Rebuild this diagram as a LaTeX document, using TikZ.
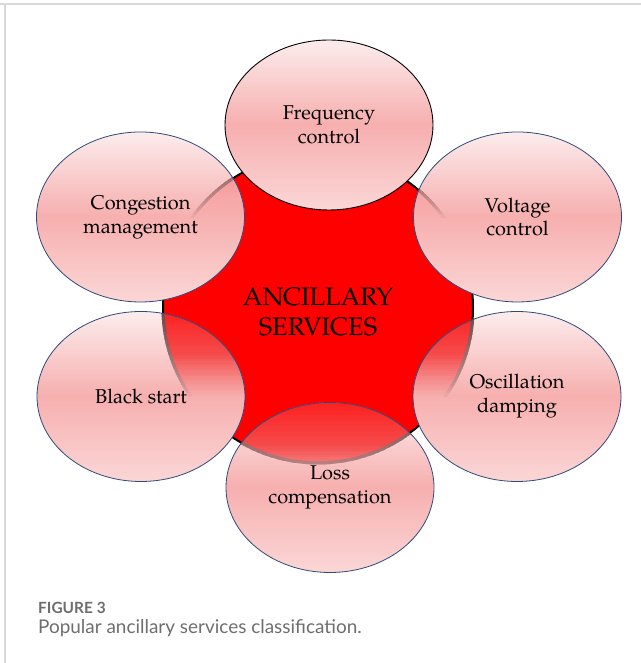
\documentclass[tikz,border=0pt]{standalone}
\usepackage{fontspec}
\setmainfont{TeX Gyre Pagella}
\newfontfamily\capfont{Lato}
\definecolor{satTop}{HTML}{FCEDED}
\definecolor{satMid}{HTML}{F7AFAF}
\definecolor{satBot}{HTML}{FBD6D6}
\definecolor{redTop}{HTML}{FF2020}
\definecolor{redQtr}{HTML}{F54A4A}
\definecolor{redFort}{HTML}{F58A8A}
\definecolor{satLine}{HTML}{2E4A7A}
\definecolor{hubRed}{HTML}{FF0000}
\definecolor{frameGray}{HTML}{D9D9D9}
\definecolor{capGray}{HTML}{6E6E6E}
\tikzset{
  lbl/.style={align=center, font=\fontsize{20}{24}\selectfont, text=black, inner sep=0pt},
  hublbl/.style={align=center, font=\fontsize{25.5}{30}\selectfont, text=black, inner sep=0pt},
  satedge/.style={draw=satLine, line width=0.8pt},
  capstyle/.style={anchor=base west, inner sep=0pt, text=capGray},
}
\begin{document}
\begin{tikzpicture}[x=1bp,y=1bp]
\useasboundingbox (0,0) rectangle (641,663);
\fill[white] (0,0) rectangle (641,663);
% frame
\coordinate (ftl) at (5,659);
\coordinate (ftr) at (641,659);
\coordinate (fl0) at (0,659);
\coordinate (fbl) at (5,0);
\draw[frameGray, line width=1.5bp] (fl0) -- (ftr);
\draw[frameGray, line width=1.5bp] (ftl) -- (fbl);
% hub
\coordinate (hub) at (318,355);
\fill[hubRed] (hub) circle [radius=155];
\draw[black, line width=2bp] (hub) circle [radius=155];
% satellites: banded vertical gradient, semi-transparent look above the middle
\foreach \cx/\cy/\st in {517.5/446/40, 517/266.5/100, 330/175.5/100, 141/266.5/100, 140.5/446/40, 329/538/100}{
  \begin{scope}
    \clip (\cx,\cy) ellipse [x radius=104, y radius=85];
    \foreach \k in {0,...,67}{
      \pgfmathsetmacro{\t}{(\k+0.5)/68}
      \pgfmathsetmacro{\ya}{\cy+85-2.5*\k}
      \pgfmathsetmacro{\yb}{\ya-2.65}
      \ifdim\t pt<0.5pt
        \pgfmathsetmacro{\pp}{100*\t/0.5}
        \colorlet{basecol}{satMid!\pp!satTop}
      \else
        \pgfmathsetmacro{\pp}{100*(\t-0.5)/0.5}
        \colorlet{basecol}{satBot!\pp!satMid}
      \fi
      \fill[basecol] ({\cx-105},\ya) rectangle ({\cx+105},\yb);
      \ifdim\t pt<0.5pt
        \ifdim\t pt<0.25pt
          \pgfmathsetmacro{\qq}{100*\t/0.25}
          \colorlet{ovraw}{redQtr!\qq!redTop}
        \else
          \ifdim\t pt<0.4pt
            \pgfmathsetmacro{\qq}{100*(\t-0.25)/0.15}
            \colorlet{ovraw}{redFort!\qq!redQtr}
          \else
            \pgfmathsetmacro{\qq}{100*(\t-0.4)/0.1}
            \colorlet{ovraw}{satMid!\qq!redFort}
          \fi
        \fi
        \colorlet{ovcol}{ovraw!\st!basecol}
        \begin{scope}
          \clip (hub) circle [radius=155];
          \fill[ovcol] ({\cx-105},\ya) rectangle ({\cx+105},\yb);
        \end{scope}
      \fi
    }
    \foreach \k in {0,...,33}{
      \pgfmathsetmacro{\t}{(\k+0.5)/68}
      \pgfmathsetmacro{\ya}{\cy+85-2.5*\k}
      \pgfmathsetmacro{\yb}{\ya-2.65}
      \pgfmathsetmacro{\lq}{58*pow(max(1-\t/0.5,0.001),0.6)}
      \colorlet{lncol}{black!\lq!satMid}
      \begin{scope}
        \clip ({\cx-105},\ya) rectangle ({\cx+105},\yb);
        \draw[lncol, line width=3bp] (hub) circle [radius=155];
      \end{scope}
    }
  \end{scope}
}
\coordinate (volt) at (517.5,446);
\coordinate (osc) at (517,266.5);
\coordinate (loss) at (330,175.5);
\coordinate (black) at (141,266.5);
\coordinate (cong) at (140.5,446);
\coordinate (freq) at (329,538);
\foreach \c in {volt,osc,loss,black,cong}{
  \draw[satedge] (\c) ellipse [x radius=104, y radius=85];
}
\draw[black, line width=0.9pt] (freq) ellipse [x radius=104, y radius=85];
% labels
\node[hublbl] (hubtxt) at (318,351) {ANCILLARY\\SERVICES};
\node[lbl] (freqtxt) at (329,538) {Frequency\\control};
\node[lbl] (volttxt) at (517.5,446) {Voltage\\control};
\node[lbl] (osctxt) at (517,266.5) {Oscillation\\damping};
\node[lbl] (losstxt) at (330,175.5) {Loss\\compensation};
\node[lbl] (blacktxt) at (141,266.5) {Black start};
\node[lbl] (congtxt) at (140.5,446) {Congestion\\management};
% caption
\node[capstyle, font=\capfont\bfseries\fontsize{15.5}{18}\selectfont] (figno) at (38,49) {FIGURE 3};
\node[capstyle, font=\capfont\fontsize{19}{22}\selectfont] (figcap) at (38,29) {Popular ancillary services classification.};
\end{tikzpicture}
\end{document}
